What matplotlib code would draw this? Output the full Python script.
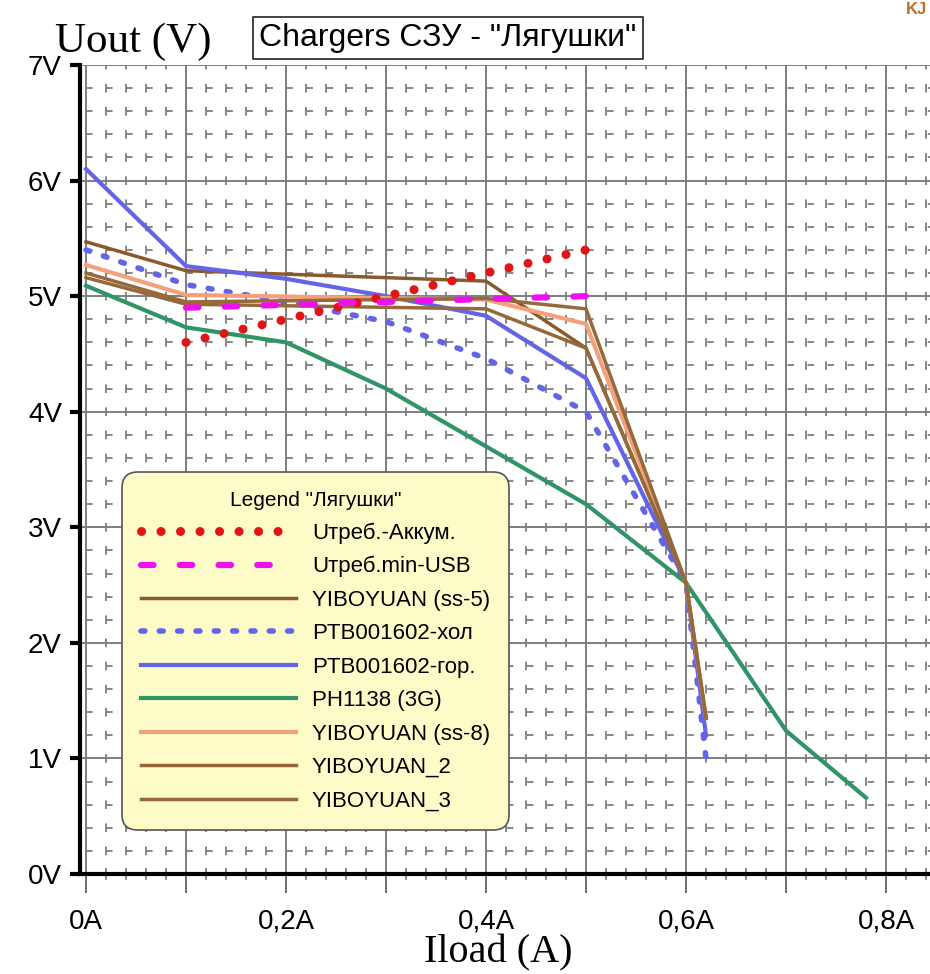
import numpy as np
import matplotlib
matplotlib.use('Agg')
import matplotlib.pyplot as plt
from matplotlib.ticker import FixedLocator, MultipleLocator

plt.rcParams['font.family'] = ['Liberation Sans', 'DejaVu Sans']

# data (load current in A, output voltage in V)
x_akk = [0.1, 0.2, 0.3, 0.4, 0.5]
u_akk = [4.6, 4.8, 5.0, 5.2, 5.4]

x_usb = [0.1, 0.5]
u_usb = [4.9, 5.0]

x_ss5 = [0.0, 0.1, 0.4, 0.5, 0.6, 0.62]
u_ss5 = [5.47, 5.22, 5.13, 4.55, 2.52, 1.35]

x_hol = [0.0, 0.1, 0.2, 0.3, 0.4, 0.5, 0.6, 0.62]
u_hol = [5.4, 5.1, 4.95, 4.78, 4.46, 4.0, 2.52, 1.0]

x_gor = [0.0, 0.1, 0.2, 0.3, 0.4, 0.5, 0.6, 0.62]
u_gor = [6.1, 5.26, 5.15, 5.0, 4.83, 4.29, 2.52, 1.2]

x_3g = [0.0, 0.1, 0.2, 0.3, 0.4, 0.5, 0.6, 0.7, 0.78]
u_3g = [5.09, 4.73, 4.6, 4.2, 3.7, 3.2, 2.52, 1.24, 0.66]

x_ss8 = [0.0, 0.1, 0.4, 0.5, 0.6, 0.62]
u_ss8 = [5.27, 5.01, 4.97, 4.76, 2.52, 1.35]

x_yb2 = [0.0, 0.1, 0.4, 0.5, 0.6, 0.62]
u_yb2 = [5.2, 4.95, 4.98, 4.89, 2.52, 1.35]

x_yb3 = [0.0, 0.1, 0.4, 0.5, 0.6, 0.62]
u_yb3 = [5.16, 4.93, 4.89, 4.55, 2.52, 1.35]

xticks = [0.0, 0.1, 0.2, 0.3, 0.4, 0.5, 0.6, 0.7, 0.8]
xlabels = ['0A', '', '0,2A', '', '0,4A', '', '0,6A', '', '0,8A']
yticks = [0, 1, 2, 3, 4, 5, 6, 7]
ylabels = ['0V', '1V', '2V', '3V', '4V', '5V', '6V', '7V']

fig = plt.figure(figsize=(9.3, 9.74), dpi=100)
ax = fig.add_axes([80/930, 1-874/974, 1-80/930, (874-65)/974])
ax.set_xlim(-0.006, 0.844)
ax.set_ylim(0, 7)

grey = '#7e7e7e'
ax.xaxis.set_major_locator(FixedLocator(xticks))
ax.xaxis.set_minor_locator(MultipleLocator(0.02))
ax.yaxis.set_major_locator(FixedLocator(yticks))
ax.yaxis.set_minor_locator(MultipleLocator(0.2))
ax.set_xticklabels(xlabels)
ax.set_yticklabels(ylabels)

ax.grid(which='major', color=grey, lw=1.4)
# little dash grid between the main lines
ax.xaxis.grid(True, which='minor', color=grey, lw=1.3, linestyle=(2.4, (4.8, 8.0)))
ax.yaxis.grid(True, which='minor', color=grey, lw=1.3, linestyle=(7.75, (3.6, 7.5)))

for s in ['top', 'right']:
    ax.spines[s].set_visible(False)
ax.spines['left'].set_linewidth(3)
ax.spines['bottom'].set_linewidth(3)

ax.tick_params(axis='y', which='major', length=7, width=3, color='black', pad=6, labelsize=20)
ax.tick_params(axis='y', which='minor', length=0)
ax.tick_params(axis='x', which='major', length=14, width=1.2, color='#555555', pad=11, labelsize=20)
ax.tick_params(axis='x', which='minor', length=9, width=1.2, color=grey, direction='inout')

ax.plot(x_akk, u_akk, color='#e01515', lw=6.5, linestyle=(0, (0.01, 2.15)),
        dash_capstyle='round', label='Uтреб.-Аккум.', zorder=4)
ax.plot(x_usb, u_usb, color='#ee11ee', lw=4.5, linestyle=(0, (2.0, 4.2)),
        dash_capstyle='round', label='Uтреб.min-USB', zorder=4)
ax.plot(x_ss5, u_ss5, color='#8b5a2b', lw=2.5, label='YIBOYUAN (ss-5)', zorder=3)
ax.plot(x_hol, u_hol, color='#6464e6', lw=4, linestyle=(0, (0.7, 2.6)),
        dash_capstyle='round', label='PTB001602-хол', zorder=3)
ax.plot(x_gor, u_gor, color='#6464e6', lw=3, label='PTB001602-гор.', zorder=3)
ax.plot(x_3g, u_3g, color='#2f9466', lw=3, label='PH1138 (3G)', zorder=3)
ax.plot(x_ss8, u_ss8, color='#f4a07a', lw=3, label='YIBOYUAN (ss-8)', zorder=3)
ax.plot(x_yb2, u_yb2, color='#96693a', lw=2.5, label='YIBOYUAN_2', zorder=3)
ax.plot(x_yb3, u_yb3, color='#96693a', lw=2.5, label='YIBOYUAN_3', zorder=3)

leg = ax.legend(loc='upper left', bbox_to_anchor=(122/930, 1-472/974),
                bbox_transform=fig.transFigure, borderaxespad=0,
                title='Legend "Лягушки"', fontsize=16, title_fontsize=15,
                handlelength=7.0, handletextpad=0.7, labelspacing=0.56,
                borderpad=0.85, fancybox=True, framealpha=1,
                facecolor='#fdfbc8', edgecolor='#555555')
leg.get_frame().set_boxstyle('round,pad=0,rounding_size=0.7')
leg.get_frame().set_linewidth(1.2)
leg.set_zorder(10)

fig.text(55/930, 1-52/974, 'Uout (V)', family='Liberation Serif', fontsize=31,
         ha='left', va='baseline')
fig.text(498/930, 1-962/974, 'Iload (A)', family='Liberation Serif', fontsize=29,
         ha='center', va='baseline')
fig.text(448/930, 1-38/974, 'Chargers СЗУ - "Лягушки"', fontsize=23,
         ha='center', va='center',
         bbox=dict(boxstyle='square,pad=0.2', facecolor='white', edgecolor='#222222', lw=1.2))
fig.text(927/930, 1-2/974, 'KJ', color='#b8702a', fontsize=12, fontweight='bold',
         ha='right', va='top')

fig.savefig('out.png', dpi=100)
